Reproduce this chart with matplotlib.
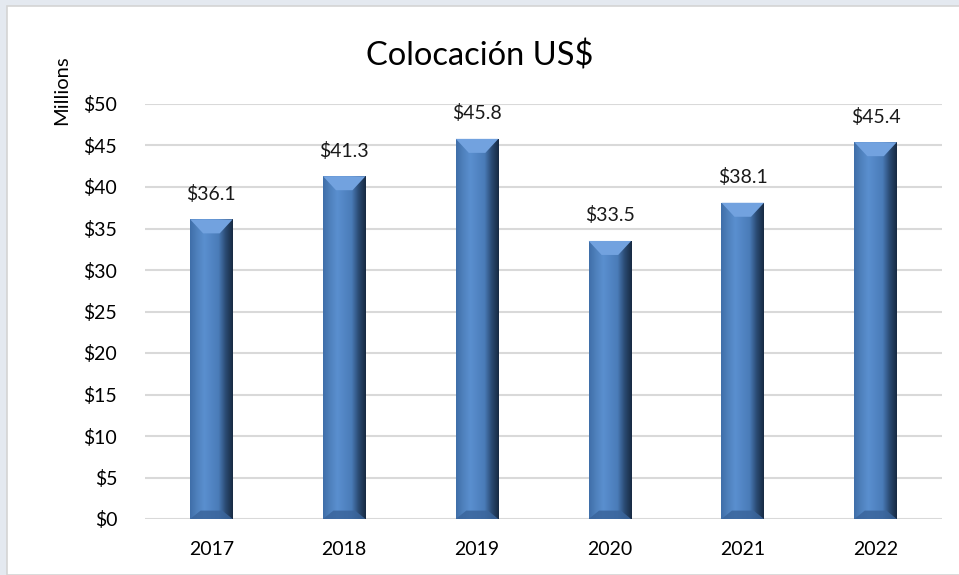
import numpy as np
import matplotlib.pyplot as plt
from matplotlib.patches import Rectangle, Polygon
from matplotlib.colors import LinearSegmentedColormap

plt.rcParams['font.family'] = ['Lato', 'DejaVu Sans']

years = ['2017', '2018', '2019', '2020', '2021', '2022']
values = [36.1, 41.3, 45.8, 33.5, 38.1, 45.4]
labels = ['$36.1', '$41.3', '$45.8', '$33.5', '$38.1', '$45.4']
yticks = [0, 5, 10, 15, 20, 25, 30, 35, 40, 45, 50]

fig = plt.figure(figsize=(9.59, 5.75), dpi=100)
fig.patch.set_facecolor('#e4e9f0')
# white chart box, behind everything
box = Rectangle((7 / 959, 0), 1, 1 - 6 / 575, transform=fig.transFigure,
                facecolor='white', edgecolor='#d4d4d4', linewidth=1.2, zorder=-10)
fig.add_artist(box)

fs = 14
ax = fig.add_axes([145 / 959, 1 - 519 / 575, (942 - 145) / 959, (519 - 104) / 575])
ax.set_facecolor('none')
ax.set_ylim(0, 50)
ax.set_xlim(-0.5, len(years) - 0.5)
ax.set_yticks(yticks)
ax.set_yticklabels(['$%d' % t for t in yticks], fontsize=fs)
ax.set_xticks(range(len(years)))
ax.set_xticklabels(years, fontsize=fs)
ax.tick_params(length=0)
ax.tick_params(axis='x', pad=16)
ax.tick_params(axis='y', pad=20)
for s in ax.spines.values():
    s.set_visible(False)
ax.grid(axis='y', color='#d9d9d9', linewidth=1.5)
ax.set_axisbelow(True)
# display-unit label sits near the top, like Excel does it
fig.text(62 / 959, 1 - 90 / 575, 'Millions', rotation=90, ha='center', va='center', fontsize=fs + 0.5)
fig.text(0.5, 1 - 56 / 575, 'Colocación US$', ha='center', va='center', fontsize=23.5)

cmap = LinearSegmentedColormap.from_list('bev', ['#3f6ea8', '#4f81bd', '#5a8fcf', '#5285c4',
                                                 '#4a7cb8', '#2a4a72', '#172a42'])
grad = np.linspace(0, 1, 256).reshape(1, -1)
w = 0.32
px_y = 50 / 415.0
px_x = 6 / 797.0
for i, v in enumerate(values):
    bar = ax.bar(i, v, width=w, color='#4f81bd', zorder=2)[0]
    x0, x1 = i - w / 2, i + w / 2
    im = ax.imshow(grad, extent=(x0, x1, 0, v), aspect='auto', cmap=cmap, zorder=3)
    im.set_clip_path(bar)
    dy = 14 * px_y
    dx = 13 * px_x
    top = Polygon([(x0, v), (x1, v), (x1 - dx, v - dy), (x0 + dx, v - dy)],
                  closed=True, facecolor='#72a2df', edgecolor='none', zorder=4)
    ax.add_patch(top)
    right = Polygon([(x1, v), (x1 - dx, v - dy), (x1 - dx * 0.5, v - dy * 0.5)],
                    closed=True, facecolor='#5a86bd', edgecolor='none', zorder=4)
    ax.add_patch(right)
    bot = Polygon([(x0, 0), (x1, 0), (x1 - dx * 0.8, dy * 0.6), (x0 + dx * 0.8, dy * 0.6)],
                  closed=True, facecolor='#3a659c', edgecolor='none', zorder=4, alpha=0.85)
    ax.add_patch(bot)
    ax.text(i, v + 2.0, labels[i], ha='center', va='bottom', fontsize=fs, color='#1a1a1a')

ax.set_xlim(-0.5, len(years) - 0.5)
ax.set_ylim(0, 50)
fig.savefig('out.png', dpi=100, facecolor=fig.get_facecolor())
